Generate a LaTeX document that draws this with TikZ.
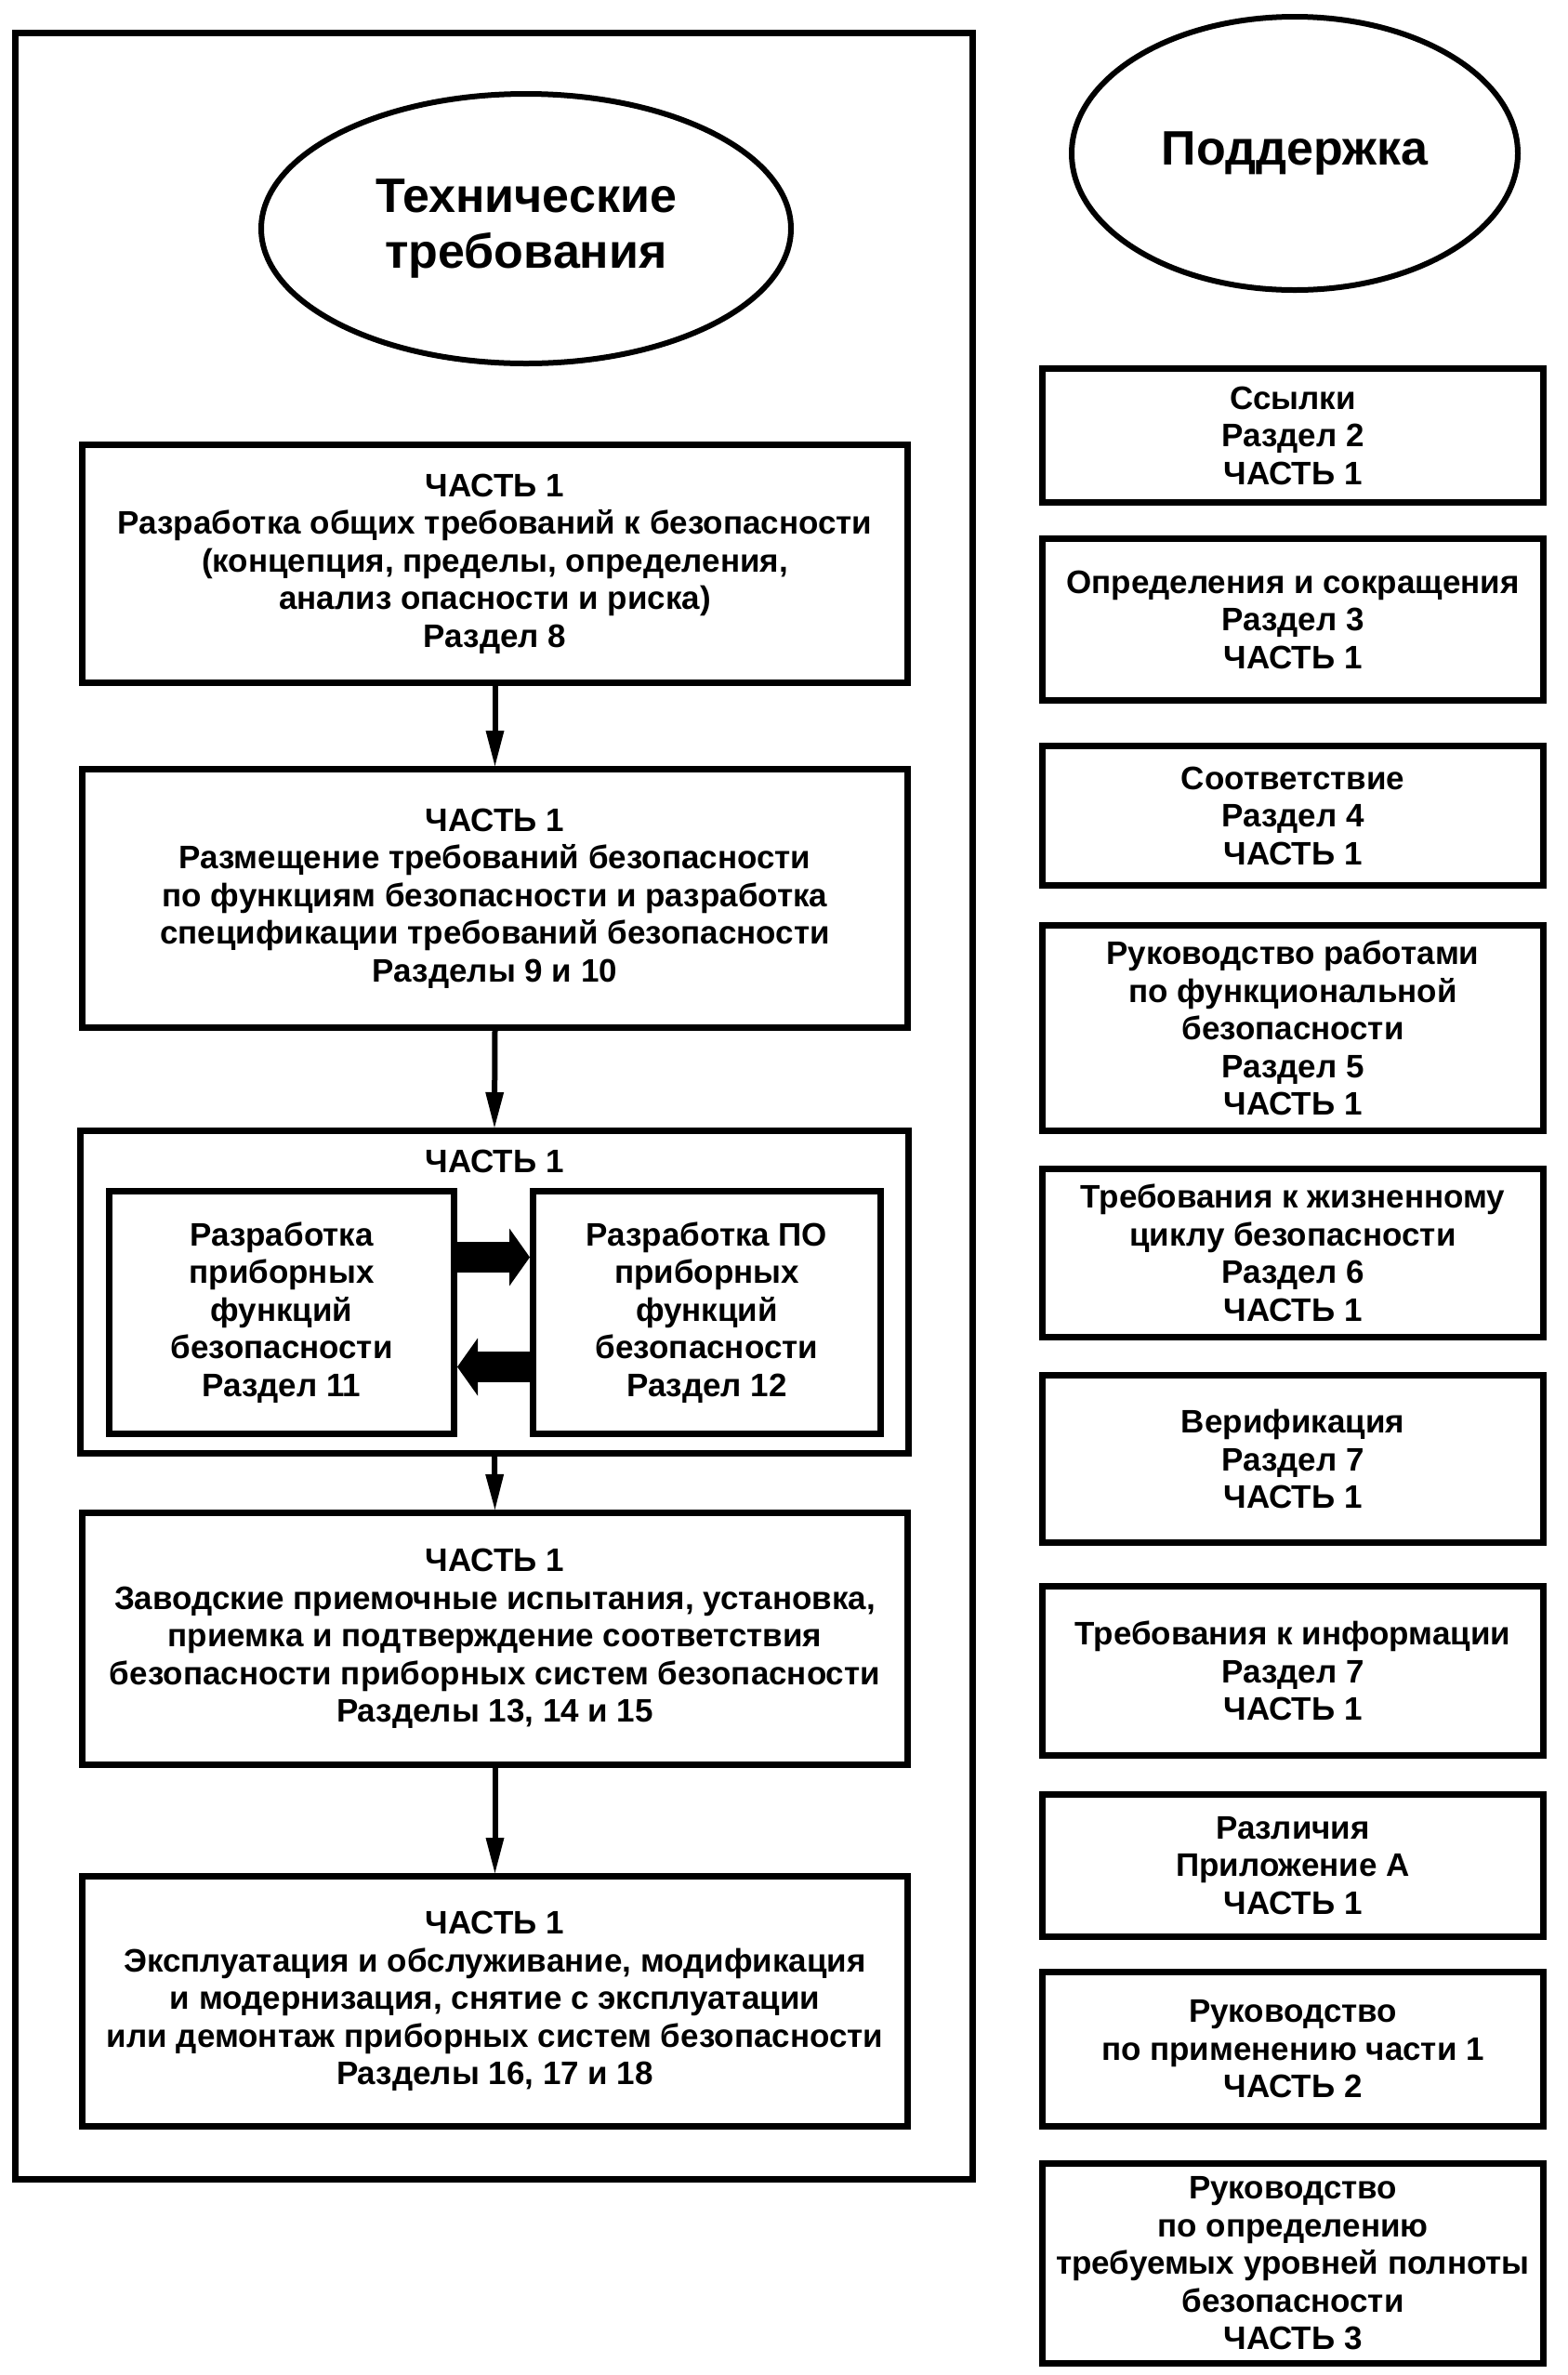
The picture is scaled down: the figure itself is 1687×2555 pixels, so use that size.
\documentclass[tikz,border=0pt]{standalone}
\usepackage{fontspec}
\setmainfont{Liberation Sans}
\usetikzlibrary{shapes.geometric,arrows.meta}
\tikzset{
  part/.style={draw, line width=3.5pt, align=center, inner sep=0pt,
    font=\bfseries\fontsize{17.5}{20.25}\selectfont},
  oval/.style={draw, ellipse, line width=3pt, align=center, inner sep=0pt,
    font=\bfseries\fontsize{26}{30}\selectfont},
  flow/.style={line width=3pt, -{Triangle[length=19pt,width=10pt,line width=0pt]}},
  fatflow/.style={line width=16.5pt, -{Triangle[length=11pt,width=31pt,line width=0pt]}},
}
\begin{document}
\begin{tikzpicture}[x=0.5pt,y=-0.5pt]
\useasboundingbox (0,0) rectangle (1687,2555);
% left frame
\draw[line width=3.5pt] (16.5,35.5) rectangle (1046.5,2344.5);
\node[oval, minimum width=285pt, minimum height=145pt] (tech) at (566,246) {Технические\\требования};
\node[oval, minimum width=240pt, minimum height=147pt] (support) at (1393,165) {Поддержка};
% left column
\node[part, minimum width=444pt, minimum height=128pt] (genreq) at (532.5,606.5)
  {ЧАСТЬ 1\\Разработка общих требований к безопасности\\(концепция, пределы, определения,\\анализ опасности и риска)\\Раздел 8};
\node[part, minimum width=444pt, minimum height=139pt] (alloc) at (532.5,966.5)
  {ЧАСТЬ 1\\Размещение требований безопасности\\по функциям безопасности и разработка\\спецификации требований безопасности\\Разделы 9 и 10};
\node[part, minimum width=445.5pt, minimum height=173.5pt] (design) at (532,1390) {};
\node[part, draw=none] (designhd) at (532,1249) {ЧАСТЬ 1};
\node[part, minimum width=185.5pt, minimum height=130.5pt] (sisdev) at (303,1412)
  {Разработка\\приборных\\функций\\безопасности\\Раздел 11};
\node[part, minimum width=187pt, minimum height=130.5pt] (swdev) at (760.5,1412)
  {Разработка ПО\\приборных\\функций\\безопасности\\Раздел 12};
\node[part, minimum width=444pt, minimum height=135.5pt] (fat) at (532.5,1763)
  {ЧАСТЬ 1\\Заводские приемочные испытания, установка,\\приемка и подтверждение соответствия\\безопасности приборных систем безопасности\\Разделы 13, 14 и 15};
\node[part, minimum width=444pt, minimum height=134.5pt] (oper) at (532.5,2153)
  {ЧАСТЬ 1\\Эксплуатация и обслуживание, модификация\\и модернизация, снятие с эксплуатации\\или демонтаж приборных систем безопасности\\Разделы 16, 17 и 18};
\foreach \aa/\bb in {genreq/alloc, alloc/design, design/fat, fat/oper} {\draw[flow] (\aa.south) -- (\bb.north);}
\draw[fatflow] ([yshift=29.75pt]sisdev.east) -- ([yshift=29.75pt]swdev.west);
\draw[fatflow] ([yshift=-29.25pt]swdev.west) -- ([yshift=-29.25pt]sisdev.east);
% right column
\foreach \nm/\yy/\hh/\txt in {
  refs/468.5/72/{Ссылки\\Раздел 2\\ЧАСТЬ 1},
  defs/666.5/87/{Определения и сокращения\\Раздел 3\\ЧАСТЬ 1},
  conf/877.5/75/{Соответствие\\Раздел 4\\ЧАСТЬ 1},
  mgmt/1106/110.5/{Руководство работами\\по функциональной\\безопасности\\Раздел 5\\ЧАСТЬ 1},
  life/1348/90.5/{Требования к жизненному\\циклу безопасности\\Раздел 6\\ЧАСТЬ 1},
  verif/1569.5/90/{Верификация\\Раздел 7\\ЧАСТЬ 1},
  info/1797.5/91/{Требования к информации\\Раздел 7\\ЧАСТЬ 1},
  diff/2007/76.5/{Различия\\Приложение А\\ЧАСТЬ 1},
  guide1/2204.5/83/{Руководство\\по применению части 1\\ЧАСТЬ 2},
  guide3/2435/107.5/{Руководство\\по определению\\требуемых уровней полноты\\безопасности\\ЧАСТЬ 3}}
  {\node[part, minimum width=269.5pt, minimum height=\hh pt] (\nm) at (1391,\yy) {\txt};}
\end{tikzpicture}
\end{document}
